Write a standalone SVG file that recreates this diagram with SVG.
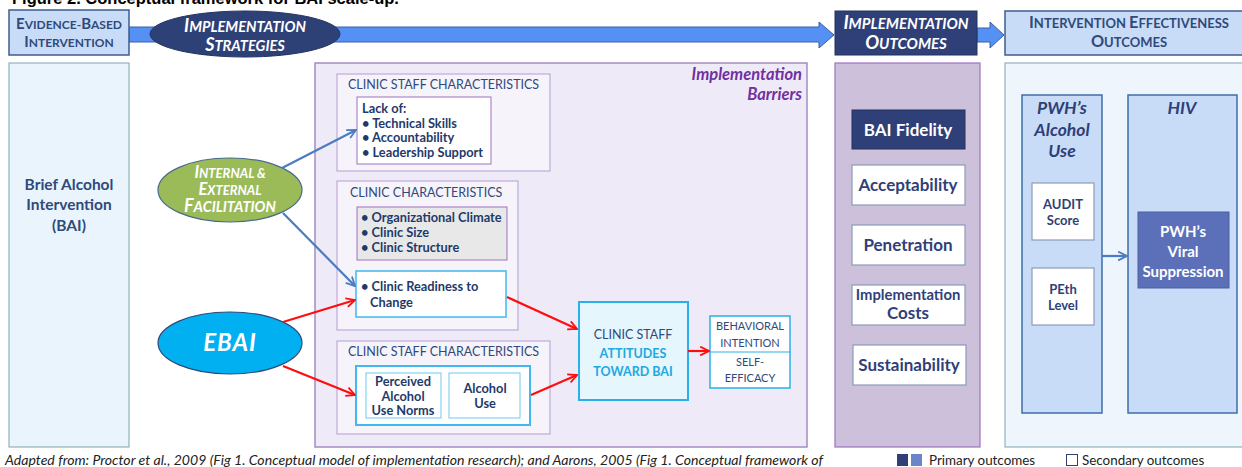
<svg xmlns="http://www.w3.org/2000/svg" width="1242" height="467" viewBox="0 0 1242 467">
<defs>
<style>
text{font-family:Lato,"Open Sans","Liberation Sans",sans-serif;}
.hdr{fill:#2f4a7a;font-weight:bold;}
.wh{fill:#ffffff;font-weight:bold;font-style:italic;}
.sec{fill:#2f4a7a;font-size:12.5px;}
.it{fill:#1f3a6a;font-weight:bold;font-size:12.8px;}
.out{fill:#2f3f78;font-weight:bold;font-size:17px;text-anchor:middle;}
.ow{fill:#ffffff;stroke:#8a9cb8;stroke-width:1.2;}
.col{fill:#c9dcf7;stroke:#3e6da8;stroke-width:1.5;}
.blue{stroke:#4a7cc0;stroke-width:2.2;fill:none;}
.red{stroke:#ff0d0d;stroke-width:2.2;fill:none;}
</style>
<marker id="ab" viewBox="0 0 10 10" refX="9" refY="5" markerWidth="5" markerHeight="5" orient="auto" markerUnits="strokeWidth"><path d="M1,1 L9,5 L1,9" fill="none" stroke="#4a7cc0" stroke-width="1.6"/></marker>
<marker id="ar" viewBox="0 0 10 10" refX="9" refY="5" markerWidth="5" markerHeight="5" orient="auto" markerUnits="strokeWidth"><path d="M1,1 L9,5 L1,9" fill="none" stroke="#ff0d0d" stroke-width="1.6"/></marker>
</defs>
<rect width="1242" height="467" fill="#ffffff"/>
<text x="12" y="4" style="font-family:'Liberation Sans',Arial,sans-serif" font-size="16.5" font-weight="bold" fill="#000">Figure 2. Conceptual framework for BAI scale-up.</text>

<!-- header bar -->
<g id="top-arrow">
<path d="M129,27 H819 V22 L834,35 L819,48 V42 H129 Z" fill="#5591f5" stroke="#3d5f9e" stroke-width="1"/>
<path d="M977,28 H990 V22 L1004,35 L990,48 V42 H977 Z" fill="#5591f5" stroke="#3d5f9e" stroke-width="1"/>
</g>
<g id="ebi-header">
<rect x="9" y="10" width="120" height="45" fill="#c9dcf7" stroke="#3e5d8f" stroke-width="1.5"/>
<text x="69" y="29" text-anchor="middle" class="hdr"><tspan font-size="15">E</tspan><tspan font-size="12">VIDENCE-</tspan><tspan font-size="15">B</tspan><tspan font-size="12">ASED</tspan></text>
<text x="69" y="47" text-anchor="middle" class="hdr"><tspan font-size="15">I</tspan><tspan font-size="12">NTERVENTION</tspan></text>
</g>
<g id="strategies">
<ellipse cx="245" cy="34" rx="95" ry="23" fill="#2e4177" stroke="#23335f" stroke-width="1"/>
<text x="245" y="32" text-anchor="middle" class="wh"><tspan font-size="18">I</tspan><tspan font-size="14.6">MPLEMENTATION</tspan></text>
<text x="245" y="51" text-anchor="middle" class="wh"><tspan font-size="18">S</tspan><tspan font-size="14.6">TRATEGIES</tspan></text>
</g>
<g id="io-header">
<rect x="835" y="11" width="142" height="44" fill="#2f3f78" stroke="#23335f" stroke-width="1"/>
<text x="906" y="29" text-anchor="middle" class="wh"><tspan font-size="18.5">I</tspan><tspan font-size="15">MPLEMENTATION</tspan></text>
<text x="906" y="49" text-anchor="middle" class="wh"><tspan font-size="18.5">O</tspan><tspan font-size="15">UTCOMES</tspan></text>
</g>
<g id="ieo-header">
<rect x="1005" y="11" width="240" height="44" fill="#c9dcf7" stroke="#3e5d8f" stroke-width="1.5"/>
<text x="1129" y="28" text-anchor="middle" class="hdr"><tspan font-size="16.3">I</tspan><tspan font-size="13">NTERVENTION </tspan><tspan font-size="16.3">E</tspan><tspan font-size="13">FFECTIVENESS</tspan></text>
<text x="1129" y="47" text-anchor="middle" class="hdr"><tspan font-size="16.3">O</tspan><tspan font-size="13">UTCOMES</tspan></text>
</g>

<!-- panels -->
<g id="bai-panel">
<rect x="9" y="63" width="120" height="384" fill="#eaf4fd" stroke="#8fb3b9" stroke-width="1.2"/>
<text x="69" y="190" text-anchor="middle" class="hdr" font-size="15.5">Brief Alcohol</text>
<text x="69" y="210" text-anchor="middle" class="hdr" font-size="15.5">Intervention</text>
<text x="69" y="231" text-anchor="middle" class="hdr" font-size="15.5">(BAI)</text>
</g>
<g id="barriers-panel">
<rect x="315" y="63" width="492" height="384" fill="#efeaf8" stroke="#a58cc4" stroke-width="1.5"/>
<text x="802" y="80" text-anchor="end" fill="#7030a0" font-weight="bold" font-style="italic" font-size="16.5">Implementation</text>
<text x="802" y="100" text-anchor="end" fill="#7030a0" font-weight="bold" font-style="italic" font-size="16.5">Barriers</text>
</g>
<g id="io-panel">
<rect x="835" y="63" width="145" height="384" fill="#ccc0da" stroke="#a070c0" stroke-width="1.2"/>
</g>
<g id="ieo-panel">
<rect x="1005" y="63" width="240" height="384" fill="#eef5fd" stroke="#8fb3b9" stroke-width="1.2"/>
</g>

<!-- barrier sections -->
<g id="staff-char-1">
<rect x="337" y="74" width="213" height="97" fill="#f6f3fb" stroke="#b59dd0" stroke-width="1"/>
<text x="348" y="89" class="sec">CLINIC STAFF CHARACTERISTICS</text>
<rect x="357" y="97" width="134" height="67" fill="#ffffff" stroke="#a070c0" stroke-width="1"/>
<text x="362" y="113" class="it">Lack of:</text>
<text x="362" y="128" class="it">• Technical Skills</text>
<text x="362" y="142" class="it">• Accountability</text>
<text x="362" y="157" class="it">• Leadership Support</text>
</g>
<g id="clinic-char">
<rect x="337" y="181" width="181" height="149" fill="#f6f3fb" stroke="#b59dd0" stroke-width="1"/>
<text x="350" y="197" class="sec">CLINIC CHARACTERISTICS</text>
<rect x="357" y="207" width="150" height="53" fill="#e8e8e8" stroke="#a070c0" stroke-width="1"/>
<text x="361" y="222" class="it">• Organizational Climate</text>
<text x="361" y="237" class="it">• Clinic Size</text>
<text x="361" y="252" class="it">• Clinic Structure</text>
</g>
<g id="readiness">
<rect x="356" y="271" width="150" height="46" fill="#ffffff" stroke="#40b8f0" stroke-width="1.5"/>
<text x="361" y="291" class="it">• Clinic Readiness to</text>
<text x="370" y="307" class="it">Change</text>
</g>
<g id="staff-char-2">
<rect x="337" y="341" width="213" height="93" fill="#f6f3fb" stroke="#b59dd0" stroke-width="1"/>
<text x="348" y="356" class="sec">CLINIC STAFF CHARACTERISTICS</text>
<rect x="356" y="366" width="174" height="59" fill="#ffffff" stroke="#40b8f0" stroke-width="2"/>
<rect x="366" y="373" width="75" height="45" fill="#ffffff" stroke="#6cc8f0" stroke-width="1"/>
<text x="403" y="386" text-anchor="middle" class="it">Perceived</text>
<text x="403" y="401" text-anchor="middle" class="it">Alcohol</text>
<text x="403" y="415" text-anchor="middle" class="it">Use Norms</text>
<rect x="449" y="373" width="71" height="45" fill="#ffffff" stroke="#6cc8f0" stroke-width="1"/>
<text x="485" y="393" text-anchor="middle" class="it">Alcohol</text>
<text x="485" y="408" text-anchor="middle" class="it">Use</text>
</g>
<g id="attitudes">
<rect x="579" y="302" width="109" height="98" fill="#e5f6fd" stroke="#2ab0e8" stroke-width="2"/>
<text x="633" y="339" text-anchor="middle" fill="#2f4a7a" font-size="12.5">CLINIC STAFF</text>
<text x="633" y="358" text-anchor="middle" fill="#22a8e0" font-weight="bold" font-size="12.5">ATTITUDES</text>
<text x="633" y="376" text-anchor="middle" fill="#22a8e0" font-weight="bold" font-size="12.5">TOWARD BAI</text>
</g>
<g id="behavioral">
<rect x="710" y="316" width="80" height="72" fill="#ffffff" stroke="#2ab0e8" stroke-width="1.5"/>
<line x1="710" y1="352" x2="790" y2="352" stroke="#2ab0e8" stroke-width="1"/>
<text x="750" y="330" text-anchor="middle" fill="#2f4a7a" font-size="11">BEHAVIORAL</text>
<text x="750" y="347" text-anchor="middle" fill="#2f4a7a" font-size="11">INTENTION</text>
<text x="750" y="366" text-anchor="middle" fill="#2f4a7a" font-size="11">SELF-</text>
<text x="750" y="382" text-anchor="middle" fill="#2f4a7a" font-size="11">EFFICACY</text>
</g>

<!-- ellipses -->
<g id="facilitation">
<ellipse cx="230" cy="190" rx="72" ry="32" fill="#9bbb59" stroke="#4a6a8a" stroke-width="1.2"/>
<text x="230" y="178" text-anchor="middle" class="wh"><tspan font-size="16.5">I</tspan><tspan font-size="13">NTERNAL &amp;</tspan></text>
<text x="230" y="195" text-anchor="middle" class="wh"><tspan font-size="16.5">E</tspan><tspan font-size="13">XTERNAL</tspan></text>
<text x="230" y="212" text-anchor="middle" class="wh"><tspan font-size="18">F</tspan><tspan font-size="14.5">ACILITATION</tspan></text>
</g>
<g id="ebai">
<ellipse cx="230" cy="343" rx="72" ry="31" fill="#00b0f0" stroke="#2f4a7a" stroke-width="1.2"/>
<text x="230" y="351" text-anchor="middle" class="wh" font-size="24" letter-spacing="1">EBAI</text>
</g>

<!-- implementation outcomes -->
<g id="fidelity">
<rect x="852" y="110" width="113" height="39" fill="#2f3f78" stroke="#23335f" stroke-width="1"/>
<text x="908" y="136" class="out" style="fill:#ffffff">BAI Fidelity</text>
</g>
<g id="acceptability">
<rect x="852" y="165" width="113" height="40" class="ow"/>
<text x="908" y="191" class="out">Acceptability</text>
</g>
<g id="penetration">
<rect x="852" y="225" width="113" height="40" class="ow"/>
<text x="908" y="251" class="out">Penetration</text>
</g>
<g id="costs">
<rect x="852" y="285" width="113" height="40" class="ow"/>
<text x="908" y="300" class="out" style="font-size:14.8px">Implementation</text>
<text x="908" y="319" class="out">Costs</text>
</g>
<g id="sustainability">
<rect x="853" y="345" width="113" height="40" class="ow"/>
<text x="909" y="371" class="out">Sustainability</text>
</g>

<!-- effectiveness -->
<g id="alcohol-use">
<rect x="1022" y="95" width="80" height="318" class="col"/>
<text x="1062" y="114" text-anchor="middle" fill="#2f3f78" font-weight="bold" font-style="italic" font-size="17.5">PWH’s</text>
<text x="1062" y="136" text-anchor="middle" fill="#2f3f78" font-weight="bold" font-style="italic" font-size="17.5">Alcohol</text>
<text x="1062" y="157" text-anchor="middle" fill="#2f3f78" font-weight="bold" font-style="italic" font-size="17.5">Use</text>
<rect x="1032" y="183" width="62" height="57" class="ow"/>
<text x="1063" y="209" text-anchor="middle" fill="#2f3f78" font-weight="bold" font-size="13">AUDIT</text>
<text x="1063" y="225" text-anchor="middle" fill="#2f3f78" font-weight="bold" font-size="13">Score</text>
<rect x="1032" y="268" width="62" height="57" class="ow"/>
<text x="1063" y="294" text-anchor="middle" fill="#2f3f78" font-weight="bold" font-size="13">PEth</text>
<text x="1063" y="310" text-anchor="middle" fill="#2f3f78" font-weight="bold" font-size="13">Level</text>
</g>
<g id="hiv">
<rect x="1128" y="95" width="109" height="318" class="col"/>
<text x="1182" y="114" text-anchor="middle" fill="#2f3f78" font-weight="bold" font-style="italic" font-size="17.5">HIV</text>
<rect x="1138" y="212" width="91" height="76" fill="#5b70b8" stroke="#4a5ea0" stroke-width="1"/>
<text x="1183" y="237" text-anchor="middle" fill="#ffffff" font-weight="bold" font-size="15">PWH’s</text>
<text x="1183" y="257" text-anchor="middle" fill="#ffffff" font-weight="bold" font-size="15">Viral</text>
<text x="1183" y="277" text-anchor="middle" fill="#ffffff" font-weight="bold" font-size="15">Suppression</text>
</g>

<!-- connectors -->
<g id="connectors">
<line x1="282" y1="168" x2="356" y2="130" class="blue" marker-end="url(#ab)"/>
<line x1="283" y1="213" x2="355" y2="286" class="blue" marker-end="url(#ab)"/>
<line x1="283" y1="322" x2="355" y2="300" class="red" marker-end="url(#ar)"/>
<line x1="283" y1="366" x2="355" y2="395" class="red" marker-end="url(#ar)"/>
<line x1="507" y1="297" x2="577" y2="329" class="red" marker-end="url(#ar)"/>
<line x1="531" y1="395" x2="577" y2="375" class="red" marker-end="url(#ar)"/>
<line x1="688" y1="351" x2="709" y2="351" class="red" marker-end="url(#ar)"/>
<line x1="1102" y1="256" x2="1127" y2="256" class="blue" marker-end="url(#ab)"/>
</g>

<!-- footer -->
<g id="footer">
<text x="5" y="465" font-size="14.1" font-style="italic" fill="#222">Adapted from: Proctor et al., 2009 (Fig 1. Conceptual model of implementation research); and Aarons, 2005 (Fig 1. Conceptual framework of</text>
<rect x="897" y="454" width="11" height="12" fill="#2f3f78"/>
<rect x="911" y="454" width="11" height="12" fill="#6a86c8"/>
<text x="929" y="465" font-size="13.4" fill="#222">Primary outcomes</text>
<rect x="1066.5" y="454.5" width="11" height="11" fill="#ffffff" stroke="#2f3f78" stroke-width="1"/>
<text x="1082" y="465" font-size="13.4" fill="#222">Secondary outcomes</text>
</g>
</svg>
